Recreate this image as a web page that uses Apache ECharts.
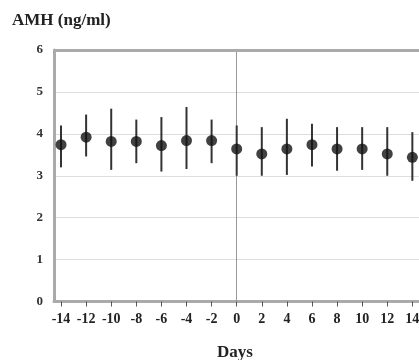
<!DOCTYPE html>
<html><head><meta charset="utf-8">
<script src="https://cdn.jsdelivr.net/npm/echarts@6/dist/echarts.min.js"></script>
<style>html,body{margin:0;padding:0;background:#fff}#c{width:419px;height:360px}</style>
</head><body><div id="c"></div>
<script>
const days = [-14,-12,-10,-8,-6,-4,-2,0,2,4,6,8,10,12,14];
const means = [3.74,3.92,3.82,3.82,3.72,3.84,3.84,3.64,3.52,3.64,3.74,3.64,3.64,3.52,3.44];
const upper = [4.20,4.46,4.60,4.34,4.40,4.64,4.34,4.20,4.16,4.36,4.24,4.16,4.16,4.16,4.04];
const lower = [3.20,3.46,3.14,3.30,3.10,3.16,3.30,3.00,3.00,3.02,3.22,3.12,3.14,3.00,2.88];
const xTicks = [-14,-12,-10,-8,-6,-4,-2,0,2,4,6,8,10,12,14];
const yTicks = [0,1,2,3,4,5,6];
const yTitle = 'AMH (ng/ml)';
const xTitle = 'Days';

const font = '"Liberation Serif", "DejaVu Serif", serif';
const chart = echarts.init(document.getElementById('c'));
chart.setOption({
  animation: false,
  backgroundColor: '#fff',
  grid: { left: 54, right: 0, top: 50, bottom: 58.5, containLabel: false, outerBoundsMode: 'none' },
  graphic: [
    { type: 'text', left: 12, top: 12, style: { text: yTitle, font: 'bold 17px ' + font, fill: '#222' } },
    { type: 'text', left: 217, top: 344, style: { text: xTitle, font: 'bold 17px ' + font, fill: '#222' } }
  ],
  xAxis: {
    type: 'value', min: -14.56, max: 14.53,
    axisLine: { show: true, onZero: false, lineStyle: { color: '#aaa', width: 3 } },
    axisTick: { show: true, customValues: xTicks, length: 5, lineStyle: { color: '#555', width: 1 } },
    axisLabel: { customValues: xTicks, margin: 11, color: '#222', fontFamily: font, fontWeight: 'bold', fontSize: 14 },
    splitLine: { show: false }
  },
  yAxis: {
    type: 'value', min: 0, max: 6, interval: 1,
    axisLine: { show: true, onZero: false, lineStyle: { color: '#aaa', width: 3 } },
    axisTick: { show: false },
    axisLabel: { margin: 11, color: '#333', fontFamily: font, fontWeight: 'bold', fontSize: 13,
      formatter: v => yTicks.includes(v) ? String(v) : '' },
    splitLine: { show: true, lineStyle: { color: '#ddd', width: 1 } }
  },
  series: [
    {
      type: 'custom',
      data: days.map((d, i) => [d, lower[i], upper[i]]),
      renderItem: function (params, api) {
        const p1 = api.coord([api.value(0), api.value(1)]);
        const p2 = api.coord([api.value(0), api.value(2)]);
        return { type: 'line', shape: { x1: p1[0], y1: p1[1], x2: p2[0], y2: p2[1] },
          style: { stroke: '#333', lineWidth: 2 } };
      },
      z: 3,
      markLine: {
        silent: true, symbol: 'none', label: { show: false },
        lineStyle: { color: '#aaa', width: 3, type: 'solid' },
        data: [ { yAxis: 6 } ]
      }
    },
    {
      type: 'scatter',
      data: days.map((d, i) => [d, means[i]]),
      symbol: 'circle', symbolSize: 11,
      itemStyle: { color: '#111' },
      z: 4,
      markLine: {
        silent: true, symbol: 'none', label: { show: false }, z: 1,
        lineStyle: { color: '#999', width: 1, type: 'solid' },
        data: [ { xAxis: 0 } ]
      }
    }
  ]
});
</script></body></html>
